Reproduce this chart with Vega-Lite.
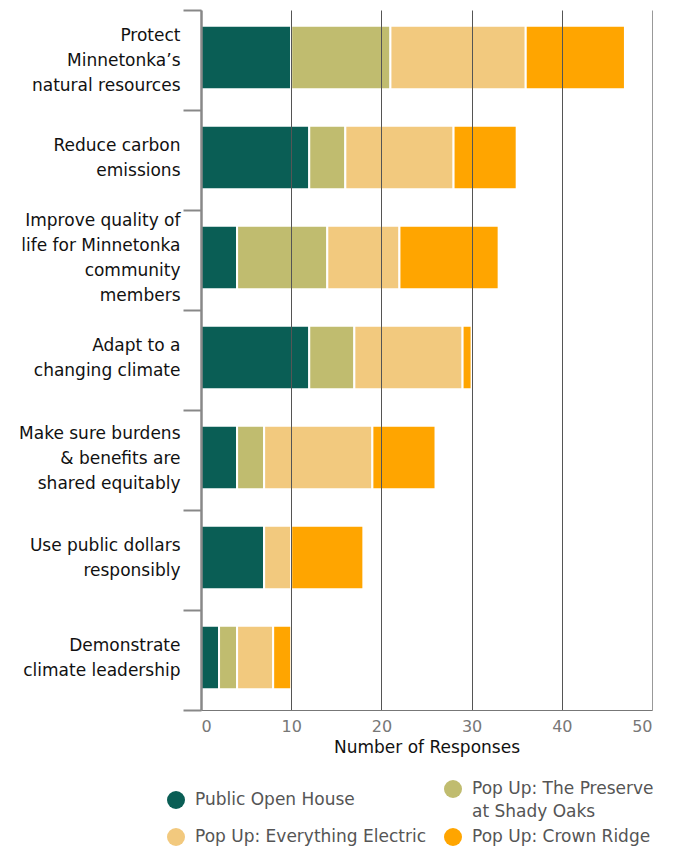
{
  "$schema": "https://vega.github.io/schema/vega-lite/v6.json",
  "width": 451,
  "height": 700,
  "autosize": {"type": "none"},
  "padding": {"left": 201, "top": 10, "right": 22, "bottom": 139},
  "background": "white",
  "config": {"font": "DejaVu Sans", "view": {"stroke": null}, "style": {"guide-label": {"lineHeight": 23}}},
  "data": {
    "values": [
      {"category": "Protect Minnetonka’s natural resources", "source": "Public Open House", "value": 10},
      {"category": "Protect Minnetonka’s natural resources", "source": "Pop Up: The Preserve at Shady Oaks", "value": 11},
      {"category": "Protect Minnetonka’s natural resources", "source": "Pop Up: Everything Electric", "value": 15},
      {"category": "Protect Minnetonka’s natural resources", "source": "Pop Up: Crown Ridge", "value": 11},
      {"category": "Reduce carbon emissions", "source": "Public Open House", "value": 12},
      {"category": "Reduce carbon emissions", "source": "Pop Up: The Preserve at Shady Oaks", "value": 4},
      {"category": "Reduce carbon emissions", "source": "Pop Up: Everything Electric", "value": 12},
      {"category": "Reduce carbon emissions", "source": "Pop Up: Crown Ridge", "value": 7},
      {"category": "Improve quality of life for Minnetonka community members", "source": "Public Open House", "value": 4},
      {"category": "Improve quality of life for Minnetonka community members", "source": "Pop Up: The Preserve at Shady Oaks", "value": 10},
      {"category": "Improve quality of life for Minnetonka community members", "source": "Pop Up: Everything Electric", "value": 8},
      {"category": "Improve quality of life for Minnetonka community members", "source": "Pop Up: Crown Ridge", "value": 11},
      {"category": "Adapt to a changing climate", "source": "Public Open House", "value": 12},
      {"category": "Adapt to a changing climate", "source": "Pop Up: The Preserve at Shady Oaks", "value": 5},
      {"category": "Adapt to a changing climate", "source": "Pop Up: Everything Electric", "value": 12},
      {"category": "Adapt to a changing climate", "source": "Pop Up: Crown Ridge", "value": 1},
      {"category": "Make sure burdens & benefits are shared equitably", "source": "Public Open House", "value": 4},
      {"category": "Make sure burdens & benefits are shared equitably", "source": "Pop Up: The Preserve at Shady Oaks", "value": 3},
      {"category": "Make sure burdens & benefits are shared equitably", "source": "Pop Up: Everything Electric", "value": 12},
      {"category": "Make sure burdens & benefits are shared equitably", "source": "Pop Up: Crown Ridge", "value": 7},
      {"category": "Use public dollars responsibly", "source": "Public Open House", "value": 7},
      {"category": "Use public dollars responsibly", "source": "Pop Up: The Preserve at Shady Oaks", "value": 0},
      {"category": "Use public dollars responsibly", "source": "Pop Up: Everything Electric", "value": 3},
      {"category": "Use public dollars responsibly", "source": "Pop Up: Crown Ridge", "value": 8},
      {"category": "Demonstrate climate leadership", "source": "Public Open House", "value": 2},
      {"category": "Demonstrate climate leadership", "source": "Pop Up: The Preserve at Shady Oaks", "value": 2},
      {"category": "Demonstrate climate leadership", "source": "Pop Up: Everything Electric", "value": 4},
      {"category": "Demonstrate climate leadership", "source": "Pop Up: Crown Ridge", "value": 2}
    ]
  },
  "mark": {"type": "bar", "stroke": "white", "strokeWidth": 2, "height": {"band": 0.635}, "yOffset": -2.5},
  "encoding": {
    "y": {
      "field": "category",
      "type": "nominal",
      "sort": [
        "Protect Minnetonka’s natural resources",
        "Reduce carbon emissions",
        "Improve quality of life for Minnetonka community members",
        "Adapt to a changing climate",
        "Make sure burdens & benefits are shared equitably",
        "Use public dollars responsibly",
        "Demonstrate climate leadership"
      ],
      "scale": {"paddingInner": 0, "paddingOuter": 0},
      "axis": {
        "title": null,
        "zindex": 1,
        "ticks": true,
        "tickBand": "extent",
        "tickSize": 18,
        "tickWidth": 2,
        "tickColor": "#888",
        "domainColor": "#888",
        "domainWidth": 2.5,
        "labelFontSize": 17,
        "labelColor": "#111",
        "labelPadding": 3,
        "labelBaseline": "middle",
        "labelLineHeight": 25,
        "labelLimit": 220,
        "labelOffset": {
          "condition": [
            {"test": "datum.value == 'Improve quality of life for Minnetonka community members'", "value": -40},
            {"test": "datum.value == 'Protect Minnetonka’s natural resources'", "value": -25},
            {"test": "datum.value == 'Make sure burdens & benefits are shared equitably'", "value": -27}
          ],
          "value": -15
        },
        "labelExpr": "{'Protect Minnetonka’s natural resources': ['Protect', 'Minnetonka’s', 'natural resources'], 'Reduce carbon emissions': ['Reduce carbon', 'emissions'], 'Improve quality of life for Minnetonka community members': ['Improve quality of', 'life for Minnetonka', 'community', 'members'], 'Adapt to a changing climate': ['Adapt to a', 'changing climate'], 'Make sure burdens & benefits are shared equitably': ['Make sure burdens', '& benefits are', 'shared equitably'], 'Use public dollars responsibly': ['Use public dollars', 'responsibly'], 'Demonstrate climate leadership': ['Demonstrate', 'climate leadership']}[datum.label]"
      }
    },
    "x": {
      "field": "value",
      "type": "quantitative",
      "stack": "zero",
      "scale": {"domain": [0, 50]},
      "axis": {
        "zindex": 1,
        "values": [0, 10, 20, 30, 40, 50],
        "title": "Number of Responses",
        "titleFontSize": 17,
        "titleFontWeight": "normal",
        "titleColor": "#111",
        "titlePadding": 5,
        "labelFontSize": 16,
        "labelColor": "#777",
        "labelPadding": 8,
        "domainColor": "#777",
        "ticks": false,
        "grid": true,
        "gridOpacity": 1,
        "gridColor": {"condition": {"test": "datum.value == 50 || datum.value == 0", "value": "#999"}, "value": "#555"}
      }
    },
    "color": {
      "field": "source",
      "type": "nominal",
      "scale": {
        "domain": ["Public Open House", "Pop Up: The Preserve at Shady Oaks", "Pop Up: Everything Electric", "Pop Up: Crown Ridge"],
        "range": ["#0a5e55", "#c0bc6f", "#f2c97e", "#ffa500"]
      },
      "legend": {
        "title": null,
        "orient": "none",
        "legendX": -34,
        "legendY": 770,
        "direction": "horizontal",
        "columns": 2,
        "columnPadding": 17,
        "rowPadding": 8,
        "symbolType": "circle",
        "symbolSize": 324,
        "symbolStrokeWidth": 0,
        "symbolOpacity": 1,
        "labelFontSize": 17,
        "labelColor": "#555",
        "labelOffset": 10,
        "labelBaseline": "middle",
        "labelLimit": 300,
        "labelExpr": "datum.label == 'Pop Up: The Preserve at Shady Oaks' ? ['Pop Up: The Preserve', 'at Shady Oaks'] : datum.label"
      }
    },
    "order": {"field": "source", "sort": "descending"}
  }
}
